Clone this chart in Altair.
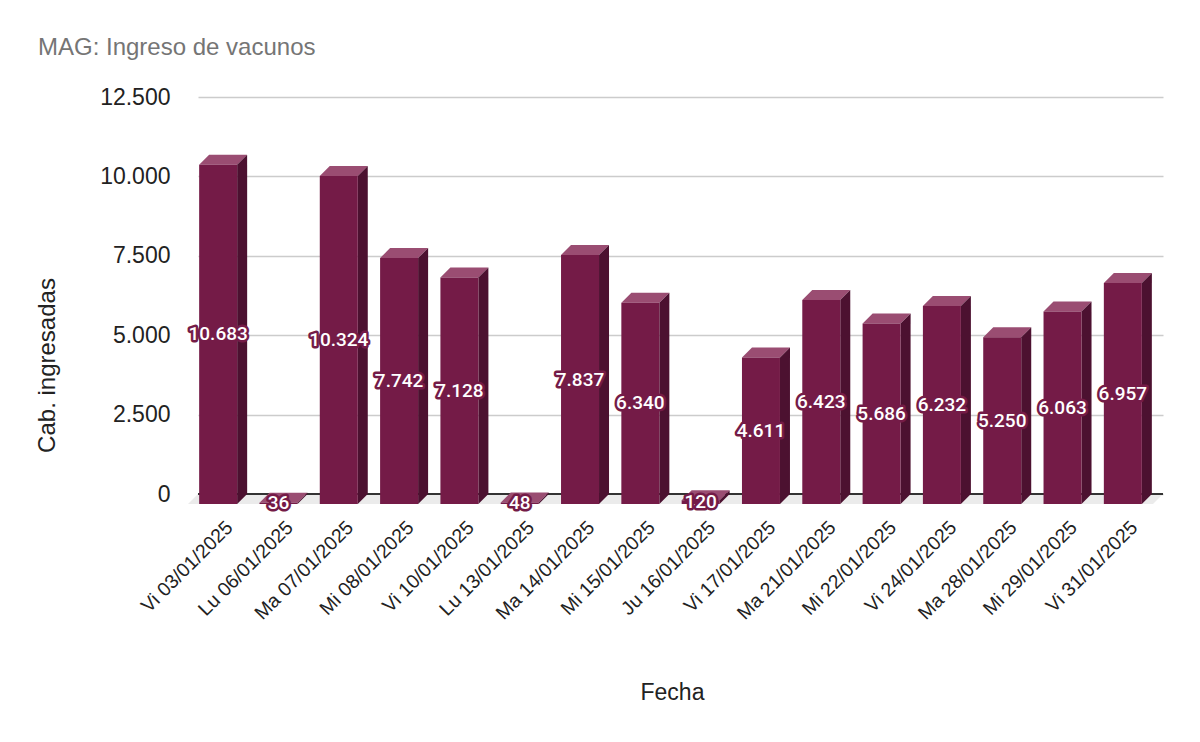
import altair as alt
import pandas as pd

# ---- data ----
fechas = ["Vi 03/01/2025", "Lu 06/01/2025", "Ma 07/01/2025", "Mi 08/01/2025",
          "Vi 10/01/2025", "Lu 13/01/2025", "Ma 14/01/2025", "Mi 15/01/2025",
          "Ju 16/01/2025", "Vi 17/01/2025", "Ma 21/01/2025", "Mi 22/01/2025",
          "Vi 24/01/2025", "Ma 28/01/2025", "Mi 29/01/2025", "Vi 31/01/2025"]
cabezas = [10683, 36, 10324, 7742, 7128, 48, 7837, 6340,
           120, 4611, 6423, 5686, 6232, 5250, 6063, 6957]
y_ticks = [0, 2500, 5000, 7500, 10000, 12500]

# ---- geometry of the pseudo-3D look (in data units) ----
W, H = 965, 397
YMAX = 12500
n = len(fechas)
px_per_band = W / n
DX = 10 / px_per_band           # depth in x
DY = 10 * YMAX / H              # depth in y
HALF = 19 / px_per_band         # half bar width

C_FRONT = "#741b47"
C_SIDE = "#4c1130"
C_TOP = "#9a4d72"

def fmt(v):
    return f"{v:,}".replace(",", ".")

front = pd.DataFrame({
    "i": range(n),
    "fecha": fechas,
    "v": cabezas,
})
front["x0"] = front["i"] - HALF - DX
front["x1"] = front["i"] + HALF - DX
front["y0"] = -DY
front["y1"] = front["v"] - DY
front["xc"] = front["i"] - DX
front["ym"] = front["v"] / 2 - DY
front["lab"] = [fmt(v) for v in cabezas]

side_rows, top_rows = [], []
for i, v in enumerate(cabezas):
    xr = i + HALF - DX
    side_rows += [
        {"id": i, "x": xr, "y": v - DY, "y2": -DY},
        {"id": i, "x": xr + DX, "y": v, "y2": 0},
    ]
    xl = i - HALF - DX
    top_rows += [
        {"id": i, "x": xl, "y": v - DY, "y2": v - DY},
        {"id": i, "x": xl + DX, "y": v, "y2": v - DY},
        {"id": i, "x": xr, "y": v, "y2": v - DY},
        {"id": i, "x": xr + DX, "y": v, "y2": v},
    ]
side = pd.DataFrame(side_rows)
top = pd.DataFrame(top_rows)

lo, hi = -0.5, n - 0.5
floor = pd.DataFrame([
    {"x": lo - DX, "y": -DY, "y2": -DY},
    {"x": lo, "y": 0, "y2": -DY},
    {"x": hi - DX, "y": 0, "y2": -DY},
    {"x": hi, "y": 0, "y2": 0},
])

label_expr = "[" + ",".join(f"'{f}'" for f in fechas) + "][datum.value]"

xscale = alt.Scale(domain=[lo, hi], nice=False, zero=False)
yscale = alt.Scale(domain=[0, YMAX], nice=False, zero=False)

FONT = "Liberation Sans"

x_axis = alt.Axis(
    values=list(range(n)), labelExpr=label_expr, labelAngle=-45,
    labelAlign="right", labelBaseline="middle", labelFontSize=19.5,
    labelFont=FONT, labelColor="#222222", labelPadding=30, labelOffset=1,
    labelOverlap=False, labelBound=False,
    ticks=False, domain=False, grid=False,
    title="Fecha", titleFont=FONT, titleFontSize=23, titleFontWeight="normal",
    titleColor="#222222", titleX=474, titleY=198, titleBaseline="middle",
    titleAlign="center",
)
y_axis = alt.Axis(
    values=y_ticks, labelExpr="replace(format(datum.value, ','), ',', '.')",
    labelFontSize=23, labelFont=FONT, labelColor="#222222", labelPadding=28,
    ticks=False, domain=False, grid=True, gridColor="#cccccc", gridWidth=1.5,
    title="Cab. ingresadas", titleFont=FONT, titleFontSize=24,
    titleFontWeight="normal", titleColor="#222222", titleAngle=-90,
    titleX=-151, titleY=268, titleBaseline="middle", titleAlign="center",
)

base_axes = alt.Chart(front).mark_point(opacity=0).encode(
    x=alt.X("i:Q", scale=xscale, axis=x_axis),
    y=alt.Y("v:Q", scale=yscale, axis=y_axis),
)

floor_layer = alt.Chart(floor).mark_area(color="#ebebeb").encode(
    x=alt.X("x:Q", scale=xscale),
    y=alt.Y("y:Q", scale=yscale, stack=False),
    y2="y2:Q",
)

zero_line = alt.Chart(pd.DataFrame({"z": [0]})).mark_rule(
    color="#333333", strokeWidth=2
).encode(
    y=alt.Y("z:Q", scale=yscale),
    x=alt.value(0), x2=alt.value(W),
)

top_layer = alt.Chart(top).mark_area(color=C_TOP).encode(
    x=alt.X("x:Q", scale=xscale),
    y=alt.Y("y:Q", scale=yscale, stack=False),
    y2="y2:Q",
    detail="id:N",
)

side_layer = alt.Chart(side).mark_area(color=C_SIDE).encode(
    x=alt.X("x:Q", scale=xscale),
    y=alt.Y("y:Q", scale=yscale, stack=False),
    y2="y2:Q",
    detail="id:N",
)

front_layer = alt.Chart(front).mark_rect(color=C_FRONT).encode(
    x=alt.X("x0:Q", scale=xscale),
    x2="x1:Q",
    y=alt.Y("y0:Q", scale=yscale),
    y2="y1:Q",
)

halo = alt.Chart(front).mark_text(
    font="Roboto", fontSize=19, fontWeight=500, color=C_FRONT,
    stroke=C_FRONT, strokeWidth=5, strokeJoin="round",
).encode(
    x=alt.X("xc:Q", scale=xscale),
    y=alt.Y("ym:Q", scale=yscale),
    text="lab:N",
)
labels = alt.Chart(front).mark_text(
    font="Roboto", fontSize=19, fontWeight=500, color="white",
).encode(
    x=alt.X("xc:Q", scale=xscale),
    y=alt.Y("ym:Q", scale=yscale),
    text="lab:N",
)

chart = alt.layer(
    base_axes, floor_layer, zero_line, top_layer, side_layer, front_layer,
    halo, labels,
).properties(
    width=W, height=H,
    autosize=alt.AutoSizeParams(type="none"),
    padding={"left": 190, "top": 89, "right": 29, "bottom": 240},
    title=alt.TitleParams(
        "MAG: Ingreso de vacunos", anchor="start", frame="group", dx=-160,
        offset=26, fontSize=24, font=FONT, fontWeight="normal",
        color="#757575",
    ),
).configure_view(stroke=None)

chart.save("out.html", embed_options={"renderer": "svg", "actions": False})
